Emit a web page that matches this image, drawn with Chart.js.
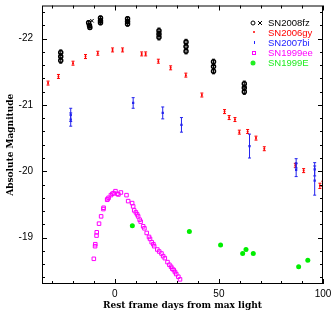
<!DOCTYPE html>
<html>
<head>
<meta charset="utf-8">
<script src="https://cdn.jsdelivr.net/npm/chart.js@4.4.0/dist/chart.umd.min.js"></script>
<style>
  html, body { margin: 0; padding: 0; background: #fff; }
  #sn-chart { display: block; }
</style>
</head>
<body>
<canvas id="sn-chart" width="333" height="311"></canvas>
<script>
// Axes: tick labels
const xTickValues = [0, 50, 100];
const yTickValues = [-22, -21, -20, -19];

// SN2008fz - circles and crosses (clusters at each epoch)
const fzCircleDays = [-26, -26, -26, -12.6, -12.2, -12.0, -6.9, -6.9, -6.9, 6.1, 6.1, 6.1, 21.2, 21.2, 21.2, 34.2, 34.2, 34.2, 47.4, 47.4, 47.4, 62.2, 62.2, 62.2];
const fzCircleMags = [-21.79, -21.73, -21.67, -22.24, -22.20, -22.17, -22.31, -22.27, -22.24, -22.30, -22.26, -22.22, -22.12, -22.07, -22.02, -21.95, -21.88, -21.81, -21.65, -21.58, -21.51, -21.32, -21.26, -21.20];
const fzCircleErrs = [0.04, 0.04, 0.04, 0.03, 0.03, 0.03, 0.03, 0.03, 0.03, 0.03, 0.03, 0.03, 0.04, 0.04, 0.04, 0.04, 0.04, 0.04, 0.04, 0.04, 0.04, 0.04, 0.04, 0.04];
const fzCrossDays = [-26, -11.0, -6.9, 6.1, 21.2, 34.2, 47.4, 62.2];
const fzCrossMags = [-21.76, -22.27, -22.28, -22.27, -22.09, -21.91, -21.61, -21.28];

// SN2006gy - red
const gyDays = [-32.1, -27.1, -20.1, -14.1, -8.2, -1.1, 3.7, 12.9, 14.8, 20.9, 26.8, 34.1, 41.8, 52.7, 54.9, 57.7, 59.8, 63.8, 67.8, 71.8, 86.7, 90.7, 98.5, 99.9];
const gyMags = [-21.33, -21.43, -21.63, -21.73, -21.78, -21.83, -21.83, -21.77, -21.77, -21.66, -21.56, -21.45, -21.15, -20.90, -20.81, -20.78, -20.59, -20.60, -20.50, -20.34, -20.09, -20.01, -19.78, -19.81];
const gyErrs = [0.03, 0.03, 0.03, 0.03, 0.03, 0.03, 0.03, 0.03, 0.03, 0.03, 0.03, 0.03, 0.03, 0.03, 0.03, 0.03, 0.03, 0.03, 0.03, 0.03, 0.03, 0.03, 0.04, 0.04];

// SN2007bi - blue
const biDays = [-21.2, -21.2, 8.8, 23, 32, 64.7, 87.1, 87.1, 96, 96];
const biMags = [-20.85, -20.78, -21.03, -20.88, -20.70, -20.38, -20.12, -20.02, -20.03, -19.86];
const biErrs = [0.10, 0.10, 0.08, 0.09, 0.11, 0.18, 0.07, 0.10, 0.10, 0.22];

// SN1999ee - magenta open squares
const eeDays = [-10.1, -9.5, -9.4, -8.8, -8.7, -7.6, -6.6, -5.5, -5.4, -3.7, -3.5, -3.0, -1.9, -1.2, -0.6, 0.3, 1.2, 1.7, 2.9, 5.6, 6.4, 8.3, 8.8, 9.3, 10.1, 10.7, 11.2, 11.9, 12.4, 13.6, 14.2, 15.3, 16.4, 16.9, 17.7, 18.5, 18.9, 20.4, 21.3, 22.4, 23.2, 24.0, 25.3, 26.2, 27.0, 27.6, 28.3, 28.9, 29.5, 30.5, 31.3];
const eeMags = [-18.68, -18.87, -18.90, -19.03, -19.08, -19.21, -19.32, -19.43, -19.45, -19.57, -19.58, -19.60, -19.64, -19.66, -19.67, -19.70, -19.66, -19.65, -19.68, -19.64, -19.55, -19.52, -19.47, -19.41, -19.38, -19.35, -19.32, -19.27, -19.24, -19.17, -19.14, -19.07, -19.01, -18.98, -18.93, -18.90, -18.87, -18.82, -18.79, -18.76, -18.72, -18.69, -18.63, -18.59, -18.56, -18.53, -18.51, -18.48, -18.45, -18.41, -18.37];

// SN1999E - green filled circles
const eDays = [8.4, 35.8, 50.8, 61.4, 63.0, 66.5, 88.3, 92.7];
const eMags = [-19.18, -19.09, -18.89, -18.76, -18.82, -18.76, -18.56, -18.66];

// Legend entries
const legendNames = ['SN2008fz', 'SN2006gy', 'SN2007bi', 'SN1999ee', 'SN1999E'];
const legendColors = ['#000000', '#ff0000', '#2222ff', '#ff00ff', '#22ee22'];

const toPoints = (xs, ys) => xs.map((x, i) => ({ x: x, y: ys[i] }));

document.addEventListener('DOMContentLoaded', () => {
    const ctx = document.getElementById('sn-chart').getContext('2d');

    // Error bars drawn from the dataset's "errors" array
    const errorBars = {
        id: 'errorBars',
        afterDatasetsDraw(chart) {
            const c = chart.ctx;
            const yScale = chart.scales.y;
            const area = chart.chartArea;
            c.save();
            c.beginPath();
            c.rect(area.left, area.top, area.right - area.left, area.bottom - area.top);
            c.clip();
            chart.data.datasets.forEach((ds, di) => {
                if (!ds.errors) return;
                const meta = chart.getDatasetMeta(di);
                c.strokeStyle = ds.borderColor;
                c.lineWidth = 1;
                meta.data.forEach((pt, i) => {
                    const v = ds.data[i].y;
                    const e = ds.errors[i];
                    const y1 = yScale.getPixelForValue(v - e);
                    const y2 = yScale.getPixelForValue(v + e);
                    const cap = ds.capWidth || 1.5;
                    c.beginPath();
                    c.moveTo(pt.x, y1); c.lineTo(pt.x, y2);
                    c.moveTo(pt.x - cap, y1); c.lineTo(pt.x + cap, y1);
                    c.moveTo(pt.x - cap, y2); c.lineTo(pt.x + cap, y2);
                    c.stroke();
                });
            });
            c.restore();
        }
    };

    // Box around the plot with inward ticks on all four sides
    const frameTicks = {
        id: 'frameTicks',
        afterDraw(chart) {
            const c = chart.ctx;
            const { left, right, top, bottom } = chart.chartArea;
            const xs = chart.scales.x, ys = chart.scales.y;
            c.save();
            c.strokeStyle = '#000';
            c.lineWidth = 1;
            c.strokeRect(left + 0.5, top + 0.5, right - left - 1, bottom - top - 1);
            c.beginPath();
            for (let v = Math.ceil(xs.min / 10) * 10; v <= xs.max; v += 10) {
                const px = Math.round(xs.getPixelForValue(v)) + 0.5;
                const len = v % 50 === 0 ? 5 : 3;
                c.moveTo(px, bottom); c.lineTo(px, bottom - len);
                c.moveTo(px, top); c.lineTo(px, top + len);
            }
            for (let k = Math.ceil(ys.min * 5); k <= ys.max * 5; k++) {
                const v = k / 5;
                const py = Math.round(ys.getPixelForValue(v)) + 0.5;
                const len = k % 5 === 0 ? 5 : 3;
                c.moveTo(left, py); c.lineTo(left + len, py);
                c.moveTo(right, py); c.lineTo(right - len, py);
            }
            c.stroke();
            c.restore();
        }
    };

    // Legend in the upper right corner of the plot
    const cornerLegend = {
        id: 'cornerLegend',
        afterDraw(chart) {
            const c = chart.ctx;
            const textX = 268, markX = 254, y0 = 23, step = 10;
            c.save();
            c.font = '9.5px "Liberation Sans", Arial, sans-serif';
            c.textBaseline = 'middle';
            c.textAlign = 'left';
            legendNames.forEach((name, i) => {
                const y = y0 + i * step;
                c.fillStyle = legendColors[i];
                c.strokeStyle = legendColors[i];
                c.fillText(name, textX, y);
                c.lineWidth = 1;
                c.beginPath();
                if (i === 0) {
                    c.arc(markX - 1, y, 2, 0, Math.PI * 2);
                    c.moveTo(markX + 4, y - 2); c.lineTo(markX + 8, y + 2);
                    c.moveTo(markX + 4, y + 2); c.lineTo(markX + 8, y - 2);
                    c.stroke();
                } else if (i === 1) {
                    c.arc(markX, y - 1, 1, 0, Math.PI * 2);
                    c.fill();
                } else if (i === 2) {
                    c.moveTo(markX + 0.5, y - 2); c.lineTo(markX + 0.5, y + 1);
                    c.stroke();
                } else if (i === 3) {
                    c.strokeRect(markX - 1.5, y - 1.5, 3, 3);
                } else {
                    c.arc(markX - 1, y, 2.5, 0, Math.PI * 2);
                    c.fill();
                }
            });
            c.restore();
        }
    };

    const titleFont = { family: '"DejaVu Serif", serif', size: 9, weight: 'bold', lineHeight: 1.2 };
    const tickFont = { family: '"Liberation Sans", Arial, sans-serif', size: 10 };

    new Chart(ctx, {
        type: 'scatter',
        data: {
            datasets: [
                {
                    label: 'SN1999ee',
                    data: toPoints(eeDays, eeMags),
                    pointStyle: 'rect',
                    pointRadius: 2.5,
                    borderColor: '#ff00ff',
                    backgroundColor: 'rgba(0,0,0,0)',
                    borderWidth: 1
                },
                {
                    label: 'SN1999E',
                    data: toPoints(eDays, eMags),
                    pointStyle: 'circle',
                    pointRadius: 2.5,
                    borderColor: '#00ee00',
                    backgroundColor: '#00ee00',
                    borderWidth: 0
                },
                {
                    label: 'SN2006gy',
                    data: toPoints(gyDays, gyMags),
                    errors: gyErrs,
                    pointStyle: 'circle',
                    pointRadius: 1,
                    borderColor: '#ff0000',
                    backgroundColor: '#ff0000',
                    borderWidth: 0
                },
                {
                    label: 'SN2007bi',
                    data: toPoints(biDays, biMags),
                    errors: biErrs,
                    pointStyle: 'rect',
                    pointRadius: 1.6,
                    borderColor: '#2222ee',
                    backgroundColor: '#2222ee',
                    borderWidth: 0
                },
                {
                    label: 'SN2008fz',
                    data: toPoints(fzCircleDays, fzCircleMags),
                    errors: fzCircleErrs,
                    pointStyle: 'circle',
                    pointRadius: 2,
                    borderColor: '#000000',
                    backgroundColor: 'rgba(0,0,0,0)',
                    borderWidth: 1.5
                },
                {
                    label: 'SN2008fz x',
                    data: toPoints(fzCrossDays, fzCrossMags),
                    pointStyle: 'crossRot',
                    pointRadius: 2.5,
                    borderColor: '#000000',
                    backgroundColor: '#000000',
                    borderWidth: 1
                }
            ]
        },
        options: {
            responsive: false,
            animation: false,
            devicePixelRatio: 1,
            layout: { padding: { top: 4, right: 10, left: 0, bottom: 0 } },
            plugins: {
                legend: { display: false },
                tooltip: { enabled: false }
            },
            scales: {
                x: {
                    type: 'linear',
                    min: -35,
                    max: 100,
                    grid: { display: false, drawTicks: false },
                    border: { display: false },
                    afterBuildTicks: axis => { axis.ticks = xTickValues.map(v => ({ value: v })); },
                    afterFit: axis => { axis.height = 27; axis.paddingLeft = 0; axis.paddingRight = 0; },
                    ticks: { font: tickFont, color: '#000', padding: 4, maxRotation: 0 },
                    title: {
                        display: true,
                        text: 'Rest frame days from max light',
                        font: titleFont,
                        color: '#000',
                        padding: { top: 0, bottom: 0 }
                    }
                },
                y: {
                    type: 'linear',
                    min: -22.5,
                    max: -18.3,
                    reverse: true,
                    grid: { display: false, drawTicks: false },
                    border: { display: false },
                    afterBuildTicks: axis => { axis.ticks = yTickValues.map(v => ({ value: v })); },
                    afterFit: axis => { axis.width = 42; axis.paddingTop = 0; axis.paddingBottom = 0; },
                    ticks: { font: tickFont, color: '#000', padding: 9 },
                    title: {
                        display: true,
                        text: 'Absolute Magnitude',
                        font: titleFont,
                        color: '#000',
                        padding: { top: 5, bottom: 0 }
                    }
                }
            }
        },
        plugins: [errorBars, frameTicks, cornerLegend]
    });
});
</script>
</body>
</html>
